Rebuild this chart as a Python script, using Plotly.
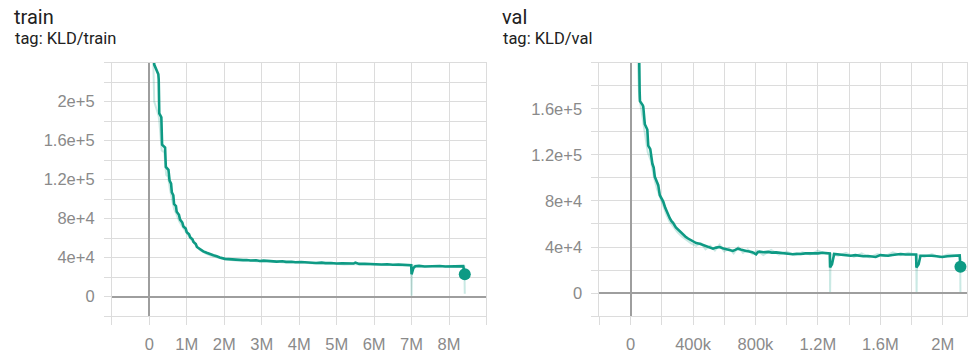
import plotly.graph_objects as go

# ---- KLD/train: step (millions) and value (x1e4) ----
train_step = [0.10, 0.115, 0.13, 0.24, 0.25, 0.265, 0.32, 0.34, 0.42, 0.44, 0.51, 0.54, 0.58, 0.60,
              0.64, 0.66, 0.71, 0.73, 0.79, 0.82, 0.88, 0.91, 0.97, 1.00, 1.06, 1.09, 1.15, 1.18,
              1.24, 1.27, 1.35, 1.44, 1.53, 1.62, 1.71, 1.80, 1.88, 2.02, 2.10, 2.20, 2.30, 2.40,
              2.50, 2.60, 2.70, 2.85, 2.95, 3.05, 3.20, 3.30, 3.40, 3.55, 3.65, 3.80, 3.90, 4.05,
              4.20, 4.30, 4.45, 4.60, 4.70, 4.85, 5.00, 5.15, 5.30, 5.45, 5.50, 5.60, 5.75, 5.90,
              6.05, 6.20, 6.35, 6.50, 6.65, 6.80, 6.90, 6.99, 7.00, 7.05, 7.10, 7.20, 7.35, 7.50,
              7.60, 7.75, 7.90, 8.05, 8.20, 8.30, 8.38, 8.42]
train_smooth = [27.0, 24.5, 23.8, 22.8, 22.3, 18.8, 18.4, 15.6, 15.3, 13.3, 13.0, 11.9, 11.6, 10.7,
                10.4, 9.5, 9.3, 8.7, 8.4, 7.9, 7.6, 7.2, 7.0, 6.6, 6.4, 6.1, 5.9, 5.6,
                5.4, 5.1, 4.85, 4.65, 4.5, 4.35, 4.25, 4.15, 4.02, 3.88, 3.85, 3.83, 3.78, 3.8,
                3.75, 3.76, 3.71, 3.73, 3.66, 3.7, 3.64, 3.66, 3.6, 3.63, 3.57, 3.59, 3.53, 3.56,
                3.5, 3.52, 3.46, 3.49, 3.44, 3.45, 3.4, 3.43, 3.38, 3.4, 3.5, 3.36, 3.38, 3.33,
                3.35, 3.3, 3.32, 3.27, 3.3, 3.24, 3.26, 3.22, 2.3, 2.95, 3.12, 3.16, 3.1, 3.14,
                3.1, 3.15, 3.1, 3.13, 3.09, 3.12, 3.13, 2.29]
train_raw_step = [0.10, 0.13, 0.25, 0.27, 0.33, 0.40, 0.45, 0.50, 0.55, 0.60, 0.66, 0.72, 0.80,
                  0.88, 0.96, 1.05, 1.15, 1.25, 1.35, 1.50, 1.65, 1.80, 2.00, 2.30, 2.60, 2.90,
                  3.20, 3.60, 4.00, 4.40, 4.80, 5.20, 5.60, 6.00, 6.40, 6.80, 6.99, 7.00, 7.01,
                  7.40, 7.80, 8.20, 8.41, 8.42]
train_raw = [25.0, 20.0, 18.5, 17.8, 15.0, 14.8, 12.5, 12.3, 11.0, 10.2, 9.0, 8.5, 7.7,
             7.2, 6.7, 6.2, 5.7, 5.2, 4.8, 4.45, 4.2, 4.05, 3.85, 3.72, 3.75, 3.6,
             3.66, 3.5, 3.52, 3.4, 3.42, 3.3, 3.36, 3.25, 3.28, 3.18, 3.2, 0.1, 3.2,
             3.1, 3.15, 3.08, 3.1, 0.3]

# ---- KLD/val: step (thousands) and value (x1e4) ----
val_step = [40, 55, 58, 60, 78, 81, 91, 107, 113, 126, 140, 148, 155, 170, 177, 187, 200, 209,
            222, 230, 242, 251, 262, 272, 290, 304, 320, 336, 352, 368, 384, 400, 420, 443,
            465, 485, 505, 528, 548, 570, 590, 613, 635, 655, 670, 687, 705, 720, 740, 760,
            780, 804, 815, 826, 850, 880, 905, 932, 960, 990, 1015, 1038, 1065, 1090, 1120,
            1145, 1175, 1200, 1230, 1265, 1276, 1278, 1290, 1304, 1330, 1357, 1385, 1410,
            1440, 1464, 1490, 1520, 1545, 1570, 1600, 1625, 1650, 1677, 1700, 1730, 1760,
            1783, 1820, 1829, 1831, 1845, 1857, 1890, 1930, 1960, 1996, 2030, 2060, 2091,
            2108, 2113]
val_smooth = [24.0, 20.5, 17.5, 16.66, 16.3, 16.2, 14.66, 14.2, 12.8, 12.5, 11.2, 10.9, 10.1,
              9.6, 9.37, 8.5, 8.2, 7.94, 7.4, 7.1, 6.7, 6.5, 6.25, 6.1, 5.7, 5.5, 5.3, 5.1,
              4.9, 4.74, 4.6, 4.46, 4.35, 4.29, 4.18, 4.09, 4.0, 3.86, 3.95, 4.0, 3.9, 3.8,
              3.72, 3.66, 3.75, 3.86, 3.78, 3.7, 3.66, 3.62, 3.55, 3.37, 3.55, 3.6, 3.55,
              3.58, 3.52, 3.54, 3.5, 3.45, 3.4, 3.37, 3.42, 3.4, 3.45, 3.43, 3.47, 3.45, 3.5,
              3.47, 3.45, 2.23, 2.5, 3.4, 3.36, 3.31, 3.28, 3.25, 3.3, 3.23, 3.2, 3.22, 3.18,
              3.14, 3.3, 3.28, 3.25, 3.31, 3.35, 3.4, 3.35, 3.37, 3.34, 3.35, 2.23, 2.5, 3.25,
              3.27, 3.25, 3.2, 3.14, 3.2, 3.25, 3.31, 3.28, 2.29]
val_raw_step = [40, 55, 70, 90, 110, 130, 150, 170, 190, 210, 230, 250, 270, 300, 330, 360, 390,
                420, 450, 480, 510, 540, 570, 600, 630, 660, 690, 720, 750, 780, 810, 850,
                900, 950, 1000, 1050, 1100, 1150, 1200, 1250, 1276, 1278, 1281, 1330, 1380,
                1430, 1480, 1530, 1580, 1630, 1680, 1730, 1780, 1830, 1832, 1835, 1880, 1930,
                1980, 2030, 2080, 2111, 2113]
val_raw = [22.0, 17.0, 15.8, 14.0, 12.2, 11.5, 10.0, 9.0, 8.2, 7.4, 6.8, 6.2, 5.8, 5.3, 4.9,
           4.6, 4.3, 4.1, 4.35, 3.8, 4.1, 3.7, 4.2, 3.6, 3.9, 3.45, 4.0, 3.5, 3.8, 3.4, 3.7,
           3.3, 3.75, 3.35, 3.6, 3.3, 3.55, 3.35, 3.7, 3.4, 3.4, 0.1, 3.4, 3.25, 3.5, 3.15,
           3.45, 3.1, 3.4, 3.2, 3.55, 3.3, 3.5, 3.3, 0.1, 3.3, 3.15, 3.4, 3.1, 3.35, 3.3,
           3.2, 0.1]

train_xticks = [-1, 0, 1, 2, 3, 4, 5, 6, 7, 8, 9]
train_xlabels = ["", "0", "1M", "2M", "3M", "4M", "5M", "6M", "7M", "8M", ""]
train_yticks = [-2, 0, 2, 4, 6, 8, 10, 12, 14, 16, 18, 20, 22, 24]
train_ylabels = ["", "0", "", "4e+4", "", "8e+4", "", "1.2e+5", "", "1.6e+5", "", "2e+5", "", ""]
val_xticks = [-200, 0, 200, 400, 600, 800, 1000, 1200, 1400, 1600, 1800, 2000]
val_xlabels = ["", "0", "", "400k", "", "800k", "", "1.2M", "", "1.6M", "", "2M"]
val_yticks = [-2, 0, 2, 4, 6, 8, 10, 12, 14, 16, 18, 20]
val_ylabels = ["", "0", "", "4e+4", "", "8e+4", "", "1.2e+5", "", "1.6e+5", "", ""]

LINE = "#0e9a84"
FAINT = "rgba(14,154,132,0.22)"
GRID = "#dcdcdc"
LABEL_GRAY = "#8a8a8a"

fig = go.Figure()


def add_panel(xs_raw, ys_raw, xs, ys, xscale, xa, ya):
    xr = [v * xscale for v in xs_raw]
    yr = [v * 1e4 for v in ys_raw]
    xsm = [v * xscale for v in xs]
    ysm = [v * 1e4 for v in ys]
    fig.add_trace(go.Scatter(x=xr, y=yr, mode="lines", line=dict(color=FAINT, width=2),
                             xaxis=xa, yaxis=ya, hoverinfo="skip", showlegend=False))
    fig.add_trace(go.Scatter(x=xsm, y=ysm, mode="lines", line=dict(color=LINE, width=2.6),
                             xaxis=xa, yaxis=ya, showlegend=False))
    fig.add_trace(go.Scatter(x=[xsm[-1]], y=[ysm[-1]], mode="markers",
                             marker=dict(color=LINE, size=12), xaxis=xa, yaxis=ya,
                             showlegend=False))


add_panel(train_raw_step, train_raw, train_step, train_smooth, 1e6, "x", "y")
add_panel(val_raw_step, val_raw, val_step, val_smooth, 1e3, "x2", "y2")

W, H = 968, 353
ydom = [1 - 318 / H, 1 - 63 / H]

common_x = dict(showgrid=True, gridcolor=GRID, gridwidth=1, showline=True, linecolor=GRID,
                linewidth=1, mirror=True, ticks="outside", ticklen=8, tickcolor=GRID,
                tickfont=dict(family="Liberation Sans", size=16.5, color=LABEL_GRAY),
                zeroline=True, zerolinecolor="#9e9e9e", zerolinewidth=2,
                ticklabelstandoff=5)
common_y = dict(showgrid=True, gridcolor=GRID, gridwidth=1, showline=True, linecolor=GRID,
                linewidth=1, mirror=True, ticks="outside", ticklen=7, tickcolor=GRID,
                tickfont=dict(family="Liberation Sans", size=16.5, color=LABEL_GRAY),
                zeroline=True, zerolinecolor="#9e9e9e", zerolinewidth=2,
                ticklabelstandoff=6)

fig.update_layout(
    width=W, height=H, margin=dict(l=0, r=0, t=0, b=0),
    paper_bgcolor="white", plot_bgcolor="white",
    xaxis=dict(domain=[112 / W, 487 / W], range=[-1e6, 9e6],
               tickvals=[v * 1e6 for v in train_xticks], ticktext=train_xlabels,
               anchor="y", **common_x),
    yaxis=dict(domain=ydom, range=[-2e4, 2.4e5],
               tickvals=[v * 1e4 for v in train_yticks], ticktext=train_ylabels,
               anchor="x", **common_y),
    xaxis2=dict(domain=[600 / W, 1.0], range=[-200e3, 2155e3],
                tickvals=[v * 1e3 for v in val_xticks], ticktext=val_xlabels,
                anchor="y2", **common_x),
    yaxis2=dict(domain=ydom, range=[-2e4, 2e5],
                tickvals=[v * 1e4 for v in val_yticks], ticktext=val_ylabels,
                anchor="x2", **common_y),
)

titles = [("train", 12, 17.5, 20), ("tag: KLD/train", 13, 38.5, 16.5),
          ("val", 501, 17.5, 20), ("tag: KLD/val", 502, 38.5, 16.5)]
for text, px, py, size in titles:
    fig.add_annotation(text=text, xref="paper", yref="paper", x=px / W, y=1 - py / H,
                       xanchor="left", yanchor="middle", showarrow=False,
                       font=dict(family="Roboto", size=size, color="#212121"))

fig.write_html("out.html")
